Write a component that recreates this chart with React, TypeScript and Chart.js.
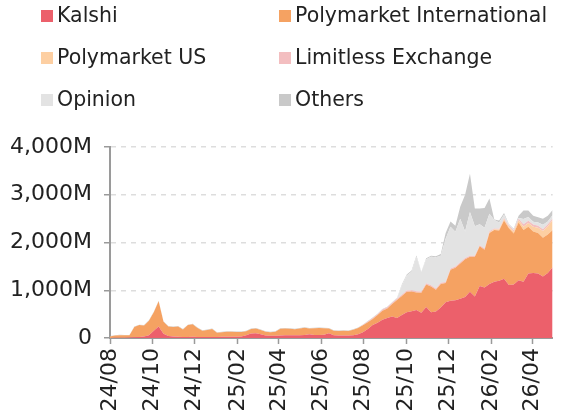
import React, { useEffect, useRef } from "react";
import { Chart, registerables } from "chart.js";

Chart.register(...registerables);

// Weekly points starting 2024-08-01 (values in millions USD)
const START_DATE = "2024-08-01";

const seriesNames = [
  "Kalshi",
  "Polymarket International",
  "Polymarket US",
  "Limitless Exchange",
  "Opinion",
  "Others",
];

const kalshi = [
  0, 5, 5, 5, 10, 15, 20, 30, 60, 150,
  240, 90, 40, 30, 25, 20, 20, 25, 20, 20,
  20, 20, 20, 25, 25, 25, 25, 30, 60, 95,
  100, 80, 50, 45, 45, 50, 55, 60, 60, 60,
  65, 80, 65, 65, 70, 100, 55, 50, 50, 50,
  55, 80, 120, 190, 270, 320, 380, 420, 450, 420,
  480, 540, 560, 585, 530, 650, 540, 555, 640, 750,
  780, 790, 820, 860, 970, 870, 1090, 1060, 1130, 1180,
  1200, 1240, 1110, 1120, 1210, 1180, 1350, 1360, 1350, 1290,
  1360, 1480,
];

const polymarketIntl = [
  30, 45, 55, 50, 45, 215, 250, 230, 300, 390,
  530, 250, 200, 200, 215, 160, 250, 265, 190, 130,
  150, 170, 90, 95, 105, 105, 100, 95, 80, 95,
  100, 90, 80, 75, 85, 145, 145, 135, 125, 140,
  150, 120, 140, 145, 135, 100, 95, 95, 100, 95,
  120, 130, 145, 140, 130, 160, 190, 200, 260, 375,
  400, 430, 415, 370, 420, 470, 540, 455, 490, 400,
  650, 680, 740, 790, 730, 830, 830, 790, 1070, 1080,
  1050, 1220, 1190, 1070, 1210, 1080, 980, 870, 850, 810,
  810, 780,
];

const polymarketUS = [
  0, 0, 0, 0, 0, 0, 0, 0, 0, 0,
  0, 0, 0, 0, 0, 0, 0, 0, 0, 0,
  0, 0, 0, 0, 0, 0, 0, 0, 0, 0,
  0, 0, 0, 0, 0, 0, 0, 0, 0, 0,
  0, 0, 0, 0, 0, 0, 0, 0, 0, 0,
  0, 0, 0, 0, 0, 0, 0, 0, 0, 0,
  0, 0, 0, 0, 0, 0, 0, 0, 0, 0,
  0, 0, 0, 0, 0, 0, 0, 0, 10, 15,
  20, 25, 30, 40, 45, 70, 80, 100, 110, 140,
  170, 210,
];

const limitless = [
  0, 0, 0, 0, 0, 0, 0, 0, 0, 0,
  0, 0, 0, 0, 0, 0, 0, 0, 0, 0,
  0, 0, 0, 0, 0, 0, 0, 0, 0, 0,
  0, 0, 0, 0, 0, 0, 0, 0, 0, 0,
  0, 0, 0, 0, 0, 0, 0, 0, 0, 0,
  0, 0, 10, 15, 20, 20, 25, 25, 30, 25,
  25, 25, 25, 25, 25, 25, 25, 25, 25, 25,
  25, 25, 25, 25, 25, 25, 25, 25, 25, 20,
  20, 25, 25, 25, 30, 50, 45, 45, 40, 40,
  40, 35,
];

const opinion = [
  0, 0, 0, 0, 0, 0, 0, 0, 0, 0,
  0, 0, 0, 0, 0, 0, 0, 0, 0, 0,
  0, 0, 0, 0, 0, 0, 0, 0, 0, 0,
  0, 0, 0, 0, 0, 0, 0, 0, 0, 0,
  0, 0, 0, 0, 0, 0, 0, 0, 0, 0,
  0, 0, 0, 0, 0, 0, 0, 0, 0, 10,
  195, 315, 385, 720, 405, 505, 595, 655, 565, 905,
  875, 730, 915, 555, 915, 615, 435, 435, 365, 175,
  130, 70, 15, 15, 20, 110, 80, 60, 70, 90,
  60, 70,
];

const others = [
  10, 10, 10, 10, 10, 10, 10, 10, 10, 10,
  10, 10, 10, 10, 10, 10, 10, 10, 10, 10,
  10, 10, 10, 10, 10, 10, 10, 10, 10, 10,
  10, 10, 10, 10, 10, 10, 10, 10, 10, 10,
  10, 10, 10, 10, 10, 10, 10, 10, 10, 10,
  10, 10, 10, 10, 10, 10, 10, 10, 10, 15,
  20, 20, 30, 30, 10, 20, 20, 20, 40, 120,
  110, 125, 250, 770, 800, 370, 330, 410, 320, 10,
  40, 40, 20, 20, 45, 180, 135, 125, 110, 130,
  120, 105,
];

const seriesValues = [kalshi, polymarketIntl, polymarketUS, limitless, opinion, others];
const seriesColors = ["#EC606B", "#F5A262", "#FDCFA2", "#F3BEC0", "#E3E3E3", "#C9C9C9"];

const xTickLabels = ["24/08", "24/10", "24/12", "25/02", "25/04", "25/06", "25/08", "25/10", "25/12", "26/02", "26/04"];
const yTickValues = [0, 1000, 2000, 3000, 4000];

const FONT = "'DejaVu Sans'";
const LEGEND_FONT_SIZE = 20.5;
const AXIS_FONT_SIZE = 22;
const TEXT_COLOR = "#222222";
const AXIS_COLOR = "#9a9a9a";

const DAY_MS = 86400000;
const startMs = Date.parse(START_DATE + "T00:00:00Z");
const tickDay = (label: string) => {
  const [yy, mm] = label.split("/").map(Number);
  return Math.round((Date.UTC(2000 + yy, mm - 1, 1) - startMs) / DAY_MS);
};

const legendPlugin = {
  id: "gridLegend",
  afterDraw(chart: any) {
    const ctx = chart.ctx;
    const colX = [41, 279];
    const rowY = [16, 58, 100];
    ctx.save();
    ctx.font = `${LEGEND_FONT_SIZE}px ${FONT}`;
    ctx.textBaseline = "middle";
    ctx.textAlign = "left";
    chart.data.datasets.forEach((ds: any, i: number) => {
      const x = colX[i % 2];
      const y = rowY[Math.floor(i / 2)];
      ctx.fillStyle = ds.backgroundColor;
      ctx.fillRect(x, y - 6, 12, 12);
      ctx.fillStyle = TEXT_COLOR;
      ctx.fillText(ds.label, x + 16, y + 1);
    });
    ctx.restore();
  },
};

export default function App() {
  const canvasRef = useRef<HTMLCanvasElement | null>(null);

  useEffect(() => {
    if (!canvasRef.current) return;
    const nPoints = kalshi.length;
    const datasets = seriesNames.map((name, s) => ({
      label: name,
      data: seriesValues[s].map((v, i) => ({ x: i * 7, y: v })),
      backgroundColor: seriesColors[s],
      borderColor: seriesColors[s],
      borderWidth: 0,
      pointRadius: 0,
      fill: s === 0 ? "origin" : "-1",
      tension: 0,
    }));
    const tickDays = xTickLabels.map(tickDay);
    const chart = new Chart(canvasRef.current, {
      type: "line",
      data: { datasets },
      plugins: [legendPlugin],
      options: {
        animation: false,
        responsive: false,
        devicePixelRatio: 1,
        layout: { padding: { top: 147, right: 2, left: 0, bottom: 0 } },
        plugins: { legend: { display: false }, tooltip: { enabled: false } },
        scales: {
          x: {
            type: "linear",
            min: 0,
            max: (nPoints - 1) * 7,
            afterBuildTicks: (scale: any) => {
              scale.ticks = tickDays.map((d) => ({ value: d }));
            },
            afterFit: (scale: any) => {
              scale.height = 78;
            },
            ticks: {
              autoSkip: false,
              maxRotation: 90,
              minRotation: 90,
              padding: 4,
              color: TEXT_COLOR,
              font: { family: FONT, size: AXIS_FONT_SIZE },
              callback: (v: any) => {
                const idx = tickDays.indexOf(Math.round(Number(v)));
                return idx >= 0 ? xTickLabels[idx] : "";
              },
            },
            grid: { drawOnChartArea: false, tickLength: 6, tickColor: AXIS_COLOR, tickWidth: 1.5 },
            border: { display: true, color: AXIS_COLOR, width: 2 },
          },
          y: {
            stacked: true,
            min: 0,
            max: 4000,
            afterBuildTicks: (scale: any) => {
              scale.ticks = yTickValues.map((v) => ({ value: v }));
            },
            afterFit: (scale: any) => {
              scale.width = 110;
            },
            ticks: {
              padding: 12,
              color: TEXT_COLOR,
              font: { family: FONT, size: AXIS_FONT_SIZE },
              callback: (v: any) => (Number(v) === 0 ? "0" : Number(v).toLocaleString("en-US") + "M"),
            },
            grid: { color: "#dddddd", lineWidth: 1.5, tickLength: 6, tickColor: AXIS_COLOR, tickWidth: 1.5 },
            border: { display: true, color: AXIS_COLOR, width: 2, dash: [5, 5] },
          },
        },
      },
    } as any);
    return () => chart.destroy();
  }, []);

  return (
    <div style={{ position: "absolute", left: 0, top: 0, width: 563, height: 416, background: "#fff" }}>
      <canvas ref={canvasRef} width={563} height={416} style={{ display: "block" }} />
    </div>
  );
}
